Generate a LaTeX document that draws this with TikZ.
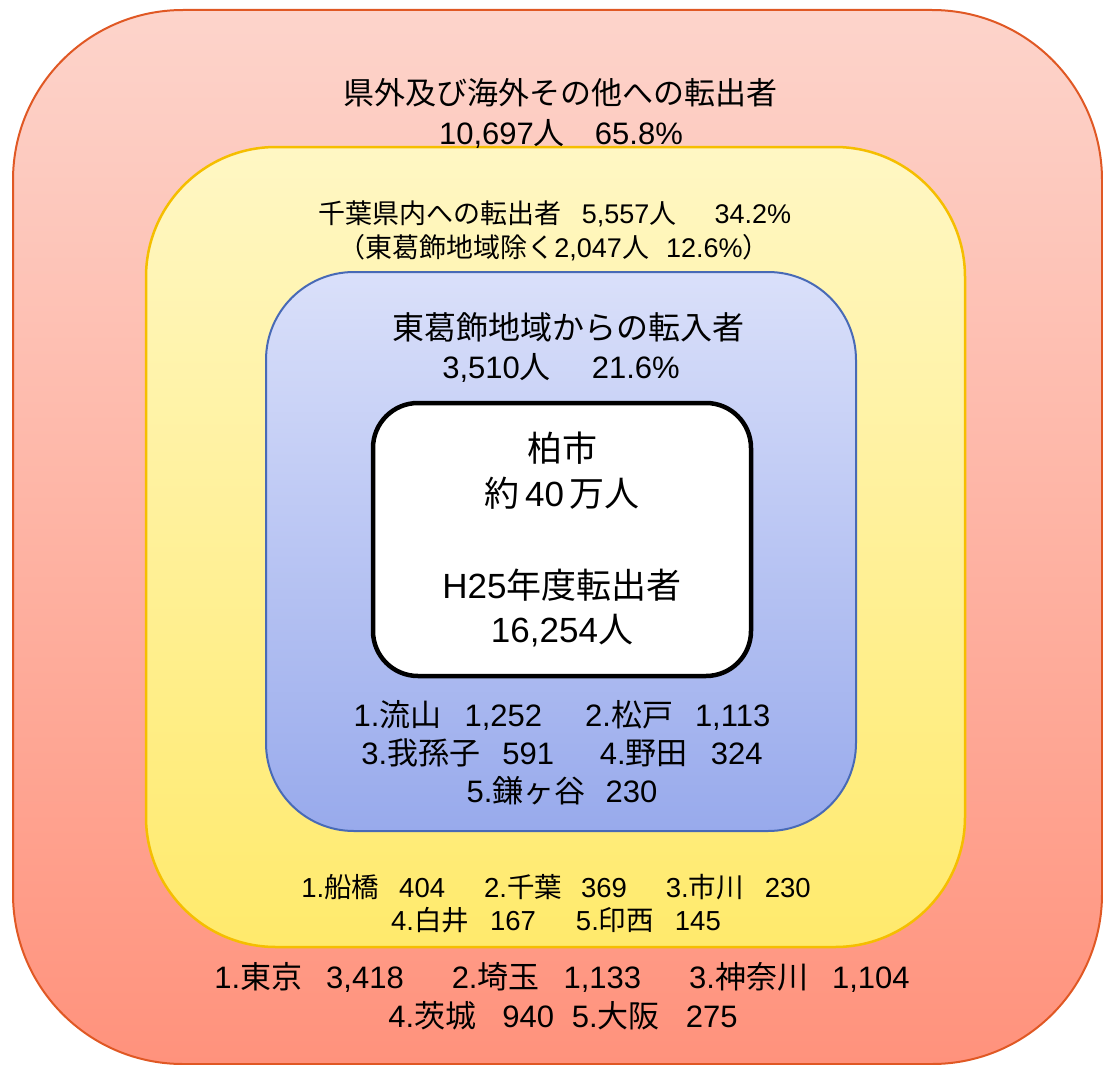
\documentclass[tikz,border=0pt]{standalone}
\usepackage{fontspec}
\setmainfont{Liberation Sans}
\newfontfamily\jpfont{Noto Sans CJK JP}
\newfontfamily\lafont{Liberation Sans}
\newXeTeXintercharclass\JPcls
\newcount\jpc
\jpc="3000 \loop\ifnum\jpc<"3100 \XeTeXcharclass\jpc=\JPcls \advance\jpc by 1 \repeat
\jpc="4E00 \loop\ifnum\jpc<"A000 \XeTeXcharclass\jpc=\JPcls \advance\jpc by 1 \repeat
\jpc="FF00 \loop\ifnum\jpc<"FFF0 \XeTeXcharclass\jpc=\JPcls \advance\jpc by 1 \repeat
\XeTeXinterchartoks 0 \JPcls = {\jpfont}
\XeTeXinterchartoks 4095 \JPcls = {\jpfont}
\XeTeXinterchartoks \JPcls 0 = {\lafont}
\XeTeXinterchartoks \JPcls 4095 = {\lafont}
\XeTeXinterchartokenstate=1
\definecolor{outline}{RGB}{224,88,36}
\definecolor{outtop}{RGB}{253,212,203}
\definecolor{outbot}{RGB}{255,146,124}
\definecolor{yline}{RGB}{245,190,0}
\definecolor{ytop}{RGB}{255,247,196}
\definecolor{ybot}{RGB}{255,234,108}
\definecolor{bline}{RGB}{72,106,182}
\definecolor{btop}{RGB}{218,224,250}
\definecolor{bbot}{RGB}{152,170,236}
\newcommand{\gp}[1]{\hspace*{#1pt}}
\begin{document}
\begin{tikzpicture}[x=1pt,y=-1pt,
  panel/.style={inner sep=0pt, outer sep=0pt},
  txt/.style={anchor=base, inner sep=0pt, text=black},
  f31/.style={font=\fontsize{31}{38}\selectfont},
  f32/.style={font=\fontsize{32}{38}\selectfont},
  f27/.style={font=\fontsize{27}{34}\selectfont},
  f35/.style={font=\fontsize{35}{44}\selectfont},
  flist/.style={font=\fontsize{31}{38}\selectfont},
  fylist/.style={font=\fontsize{27.5}{33}\selectfont}]
\useasboundingbox (0,0) rectangle (1103,1065);
\node[panel, draw=outline, line width=2pt, top color=outtop, bottom color=outbot,
  rounded corners=170pt, minimum width=1089pt, minimum height=1054pt] (outer) at (557.5,537) {};
\node[panel, draw=yline, line width=2.5pt, top color=ytop, bottom color=ybot,
  rounded corners=130pt, minimum width=819pt, minimum height=800pt] (yellow) at (555.5,547) {};
\node[panel, draw=bline, line width=2pt, top color=btop, bottom color=bbot,
  rounded corners=88pt, minimum width=590pt, minimum height=559pt] (blue) at (561,551.5) {};
\node[panel, draw=black, line width=4.5pt, fill=white,
  rounded corners=45pt, minimum width=378pt, minimum height=273pt] (city) at (562,539.5) {};
% outer texts
\node[txt,f31] (o1) at (560,104) {県外及び海外その他への転出者};
\node[txt,f31] (o2) at (561,144) {10,697人\gp{30}65.8\%};
% yellow texts
\node[txt,f27] (y1) at (555,223) {千葉県内への転出者\gp{20}5,557人\gp{38}34.2\%};
\node[txt,f27] (y2) at (554,257) {（東葛飾地域除く2,047人\gp{17}12.6\%）};
% blue texts
\node[txt,f32] (b1) at (568,339) {東葛飾地域からの転入者};
\node[txt,f31] (b2) at (561,378) {3,510人\gp{41}21.6\%};
% city texts
\node[txt,f35] (c1) at (562,461) {柏市};
\node[txt,f35] (c2) at (562,506) {約\gp{6}40\gp{6}万人};
\node[txt,f35] (c3) at (562,598) {H25年度転出者};
\node[txt,f35] (c4) at (562,642) {16,254人};
% blue list
\node[txt,flist] (bl1) at (562,726) {1.流山\gp{23}1,252\gp{43}2.松戸\gp{22}1,113};
\node[txt,flist] (bl2) at (562,764) {3.我孫子\gp{22}591\gp{46}4.野田\gp{23}324};
\node[txt,flist] (bl3) at (562,802) {5.鎌ヶ谷\gp{20}230};
% yellow list
\node[txt,fylist] (yl1) at (556,897) {1.船橋\gp{20}404\gp{39}2.千葉\gp{19}369\gp{39}3.市川\gp{21}230};
\node[txt,fylist] (yl2) at (556,930) {4.白井\gp{21}167\gp{40}5.印西\gp{21}145};
% outer list
\node[txt,flist] (ol1) at (562,988) {1.東京\gp{24}3,418\gp{48}2.埼玉\gp{24}1,133\gp{48}3.神奈川\gp{24}1,104};
\node[txt,flist] (ol2) at (563,1027) {4.茨城\gp{26}940\gp{18}5.大阪\gp{26}275};
\end{tikzpicture}
\end{document}
